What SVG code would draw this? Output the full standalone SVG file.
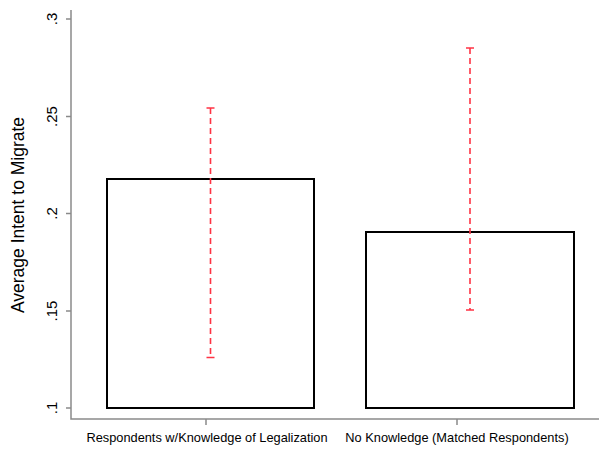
<svg xmlns="http://www.w3.org/2000/svg" width="599" height="449" viewBox="0 0 599 449">
<style>
.axis{stroke:#8a8a8a;stroke-width:1.5;fill:none}
.bar{fill:#fff;stroke:#000;stroke-width:2}
.err{stroke:#ff3344;stroke-width:1.6;fill:none}
.dash{stroke-dasharray:6 4}
text{font-family:"Liberation Sans",Arial,sans-serif;fill:#000}
.tick{font-size:15px;text-anchor:middle}
.xl{font-size:12.8px;text-anchor:middle}
</style>
<rect width="599" height="449" fill="#fff"/>
<g id="axes">
<path class="axis" d="M71,10 V419 H599"/>
<path class="axis" d="M66,19 H71 M66,116.5 H71 M66,213.5 H71 M66,311 H71 M66,408 H71 M206,419 V425 M457,419 V425"/>
<text class="tick" transform="translate(57,19) rotate(-90)">.3</text>
<text class="tick" transform="translate(57,116.5) rotate(-90)">.25</text>
<text class="tick" transform="translate(57,213.5) rotate(-90)">.2</text>
<text class="tick" transform="translate(57,311) rotate(-90)">.15</text>
<text class="tick" transform="translate(57,408) rotate(-90)">.1</text>
<text class="tick" transform="translate(24,215) rotate(-90)" style="font-size:17.5px">Average Intent to Migrate</text>
<text class="xl" x="207" y="442">Respondents w/Knowledge of Legalization</text>
<text class="xl" x="457" y="442">No Knowledge (Matched Respondents)</text>
</g>
<g id="bar1">
<rect class="bar" x="107" y="179" width="207" height="229"/>
</g>
<g id="bar2">
<rect class="bar" x="366" y="232" width="208" height="176"/>
</g>
<g id="errorbars">
<path class="err dash" d="M210.5,108 V357.5"/>
<path class="err" d="M206.5,108 H214.5 M206.5,357.5 H214.5"/>
<path class="err dash" d="M470,48 V310"/>
<path class="err" d="M466,48 H474 M466,310 H474"/>
</g>
</svg>
